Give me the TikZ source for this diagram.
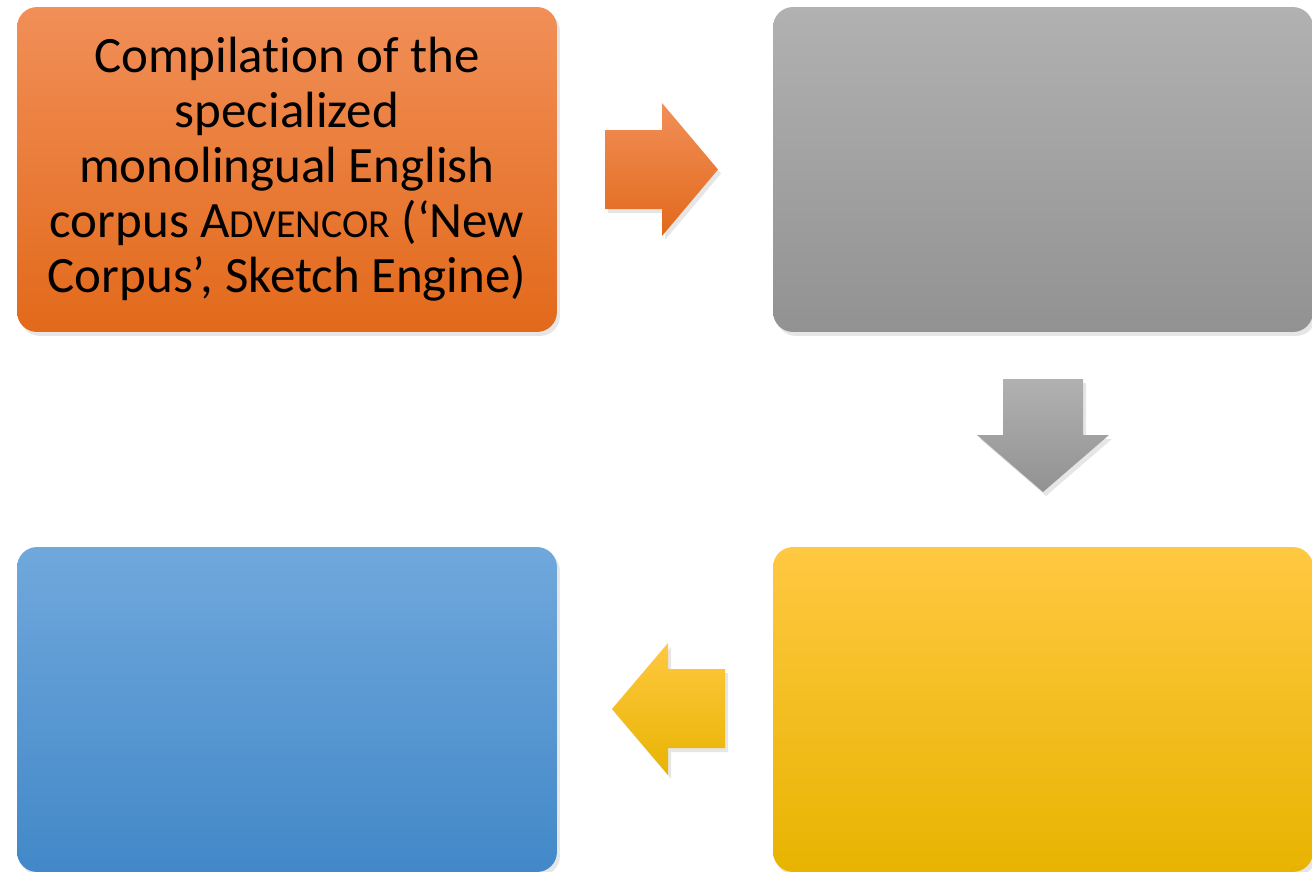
\documentclass[tikz,border=0pt]{standalone}
\usepackage{fontspec}
\setmainfont[Ligatures={NoCommon}]{Carlito}
\usepackage{tikz}
\usetikzlibrary{shadows}
\usetikzlibrary{positioning,calc}
\definecolor{orTop}{RGB}{241,143,88}
\definecolor{orMid}{RGB}{240,122,42}
\definecolor{orBot}{RGB}{226,105,26}
\definecolor{grTop}{RGB}{177,177,177}
\definecolor{grMid}{RGB}{162,162,162}
\definecolor{grBot}{RGB}{146,146,146}
\definecolor{ylTop}{RGB}{255,200,66}
\definecolor{ylMid}{RGB}{254,192,0}
\definecolor{ylBot}{RGB}{232,180,0}
\definecolor{blTop}{RGB}{112,168,220}
\definecolor{blMid}{RGB}{84,151,218}
\definecolor{blBot}{RGB}{66,136,200}
\tikzstyle{soft}=[drop shadow={opacity=0.2,shadow xshift=0.06cm,shadow yshift=-0.08cm}]
\tikzstyle{stepbox}=[soft,rounded corners=0.4cm,minimum width=10.8cm,minimum height=6.5cm,inner sep=0pt]
\tikzstyle{orangefill}=[top color=orTop,middle color=orMid,bottom color=orBot]
\tikzstyle{grayfill}=[top color=grTop,middle color=grMid,bottom color=grBot]
\tikzstyle{yellowfill}=[top color=ylTop,middle color=ylMid,bottom color=ylBot]
\tikzstyle{bluefill}=[top color=blTop,middle color=blMid,bottom color=blBot]
\newcommand{\fakesc}[1]{{\fontsize{22.6}{31.3}\selectfont #1}}

\begin{document}
\begin{tikzpicture}[x=0.02cm,y=-0.02cm]
	\useasboundingbox (0,0) rectangle (1312,872);
	\node[stepbox,orangefill,align=center,font=\fontsize{29}{31.3}\selectfont] (compile) at (287,169.5) {Compilation of the\\specialized\\monolingual English\\corpus A\fakesc{DVENCOR} (‘New\\Corpus’, Sketch Engine)};
	\node[stepbox,grayfill] (second) at (1043,169.5) {};
	\node[stepbox,yellowfill] (third) at (1043,709.5) {};
	\node[stepbox,bluefill] (fourth) at (287,709.5) {};
	% block arrows
	\path[soft,orangefill] (605,130) -- (662,130) -- (662,103) -- (718,169.5) -- (662,236) -- (662,209) -- (605,209) -- cycle;
	\path[soft,grayfill] (1003,379) -- (1083,379) -- (1083,435) -- (1109,435) -- (1043,492) -- (977,435) -- (1003,435) -- cycle;
	\path[soft,yellowfill] (725,669) -- (668,669) -- (668,643) -- (612,709) -- (668,775) -- (668,748) -- (725,748) -- cycle;
\end{tikzpicture}
\end{document}
